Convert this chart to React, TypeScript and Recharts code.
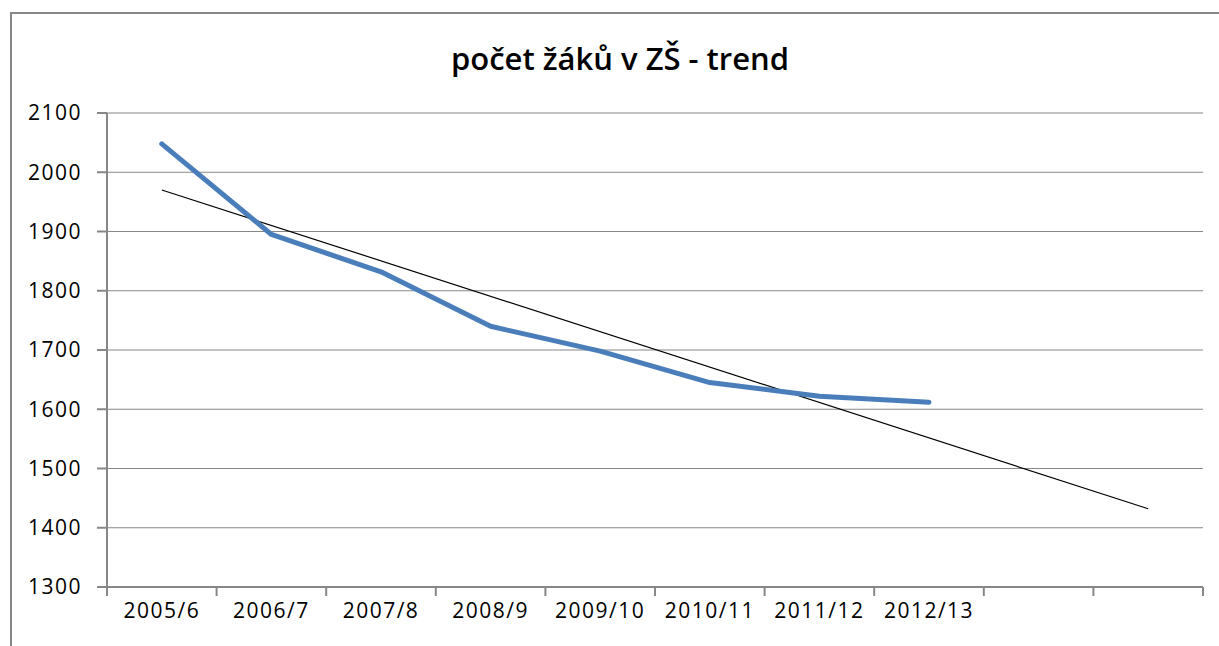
import React from 'react';
import { LineChart, Line, XAxis, YAxis, CartesianGrid } from 'recharts';

const categories = ['2005/6', '2006/7', '2007/8', '2008/9', '2009/10', '2010/11', '2011/12', '2012/13', '', ''];
const pupils = [2048, 1895, 1832, 1740, 1698, 1645, 1622, 1612];
const trendValues: (number | null)[] = [1970, null, null, null, null, null, null, null, null, 1432];
const yTicks = [1300, 1400, 1500, 1600, 1700, 1800, 1900, 2000, 2100];
const title = 'počet žáků v ZŠ - trend';

const data = categories.map((c, i) => ({
  x: i + 1,
  label: c,
  pupils: i < pupils.length ? pupils[i] : null,
  trend: trendValues[i],
}));

const boundaryTicks = categories.map((_, i) => i + 0.5).concat([categories.length + 0.5]);
const labelTicks = categories.map((_, i) => i + 1);

const AXIS = '#878787';
const FONT = "'Open Sans', sans-serif";

export default function App() {
  return (
    <div style={{ position: 'absolute', left: 0, top: 0, width: 1219, height: 646, overflow: 'hidden', background: '#fff' }}>
      <div style={{ position: 'absolute', left: 10, top: 12, width: 1400, height: 800, borderLeft: `2px solid ${AXIS}`, borderTop: `2px solid ${AXIS}` }} />
      <div style={{ position: 'absolute', left: 0, width: 1240, top: 37, textAlign: 'center', fontFamily: FONT, fontWeight: 600, fontSize: 31, color: '#000', lineHeight: '42px' }}>
        {title}
      </div>
      <div style={{ position: 'absolute', left: 0, top: 0 }}>
        <LineChart width={1219} height={646} data={data} margin={{ top: 113, right: 16, left: 0, bottom: 0 }}>
          <CartesianGrid horizontal vertical={false} stroke={AXIS} strokeWidth={1.2} />
          <XAxis
            xAxisId="b"
            dataKey="x"
            type="number"
            domain={[0.5, categories.length + 0.5]}
            ticks={boundaryTicks}
            tickFormatter={() => ''}
            height={10}
            tickSize={9}
            stroke={AXIS}
            strokeWidth={2}
            allowDataOverflow
          />
          <XAxis
            xAxisId="l"
            dataKey="x"
            type="number"
            domain={[0.5, categories.length + 0.5]}
            ticks={labelTicks}
            tickFormatter={(v: number) => categories[v - 1] ?? ''}
            height={49}
            tickSize={0}
            tickMargin={6}
            axisLine={false}
            tickLine={false}
            interval={0}
            tick={{ fill: '#000', fontFamily: FONT, fontSize: 21, letterSpacing: 1.5 }}
            allowDataOverflow
          />
          <YAxis
            domain={[1300, 2100]}
            ticks={yTicks}
            width={107}
            tickSize={10}
            tickMargin={15}
            stroke={AXIS}
            strokeWidth={2}
            interval={0}
            tick={{ fill: '#000', fontFamily: FONT, fontSize: 21, letterSpacing: 1.5 }}
            allowDataOverflow
          />
          <Line
            xAxisId="b"
            dataKey="trend"
            type="linear"
            stroke="#000"
            strokeWidth={1.2}
            dot={false}
            connectNulls
            isAnimationActive={false}
          />
          <Line
            xAxisId="b"
            dataKey="pupils"
            type="linear"
            stroke="#4A7EBB"
            strokeWidth={5}
            strokeLinecap="round"
            strokeLinejoin="round"
            dot={false}
            isAnimationActive={false}
          />
        </LineChart>
      </div>
    </div>
  );
}
